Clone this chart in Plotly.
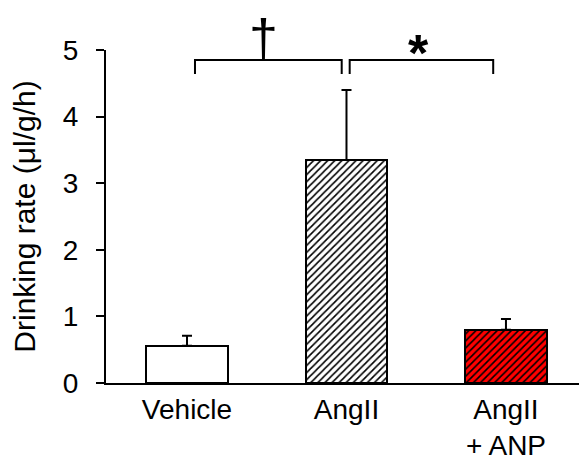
import plotly.graph_objects as go

categories = ["Vehicle", "AngII", "AngII<br>+ ANP"]
means = [0.56, 3.35, 0.80]
errors = [0.15, 1.05, 0.16]
fill_colors = ["white", "white", "#ff0000"]
patterns = ["", "/", "/"]
y_ticks = [0, 1, 2, 3, 4, 5]
y_max = 5

xs = list(range(len(categories)))

fig = go.Figure()
# base fill
fig.add_trace(go.Bar(
    x=xs, y=means, width=0.51,
    marker=dict(color=fill_colors, line=dict(width=0)),
    showlegend=False, hoverinfo="skip",
))
# hatch overlay + outline + error bars
fig.add_trace(go.Bar(
    x=xs, y=means, width=0.51,
    marker=dict(color="rgba(0,0,0,0)",
                line=dict(color="black", width=2),
                pattern=dict(shape=patterns, fgcolor="black", bgcolor="rgba(0,0,0,0)",
                             fgopacity=1, size=5, solidity=0.32, fillmode="replace")),
    error_y=dict(type="data", array=errors, arrayminus=[0]*3, symmetric=False,
                 color="black", thickness=2, width=5),
    showlegend=False,
))

# significance brackets
def bracket(x0, x1, ytop, ybot):
    fig.add_shape(type="path",
                  path=f"M {x0},{ybot} L {x0},{ytop} L {x1},{ytop} L {x1},{ybot}",
                  xref="x", yref="y", line=dict(color="black", width=2))

bracket(xs[0] + 0.05, xs[1] - 0.03, 4.85, 4.64)
bracket(xs[1] + 0.02, xs[2] - 0.08, 4.85, 4.64)
fig.add_annotation(x=(xs[0] + xs[1]) / 2 - 0.02, y=1.13, text="†", showarrow=False,
                   xref="x", yref="y domain", font=dict(size=52, color="black", family="Liberation Sans"))
fig.add_annotation(x=(xs[1] + xs[2]) / 2 - 0.05, y=1.085, text="<b>*</b>", showarrow=False,
                   xref="x", yref="y domain", font=dict(size=52, color="black", family="Liberation Sans"))

fig.update_layout(
    width=579, height=464,
    margin=dict(l=106, r=0, t=50, b=81),
    plot_bgcolor="white", paper_bgcolor="white",
    font=dict(family="Liberation Sans", size=28, color="black"),
    barmode="overlay", bargap=0,
)
fig.update_xaxes(range=[-0.508, 2.458], tickvals=xs, ticktext=categories,
                 showline=True, linecolor="black", linewidth=2, ticks="",
                 showgrid=False, zeroline=False, tickfont=dict(size=28))
fig.update_yaxes(range=[0, y_max], tickvals=y_ticks, showline=True, linecolor="black",
                 linewidth=2, ticks="outside", ticklen=8, tickwidth=2, tickcolor="black",
                 ticklabelstandoff=12,
                 showgrid=False, zeroline=False, tickfont=dict(size=28),
                 title=dict(text="Drinking rate (μl/g/h)", font=dict(size=30), standoff=18))

fig.write_html("out.html")
